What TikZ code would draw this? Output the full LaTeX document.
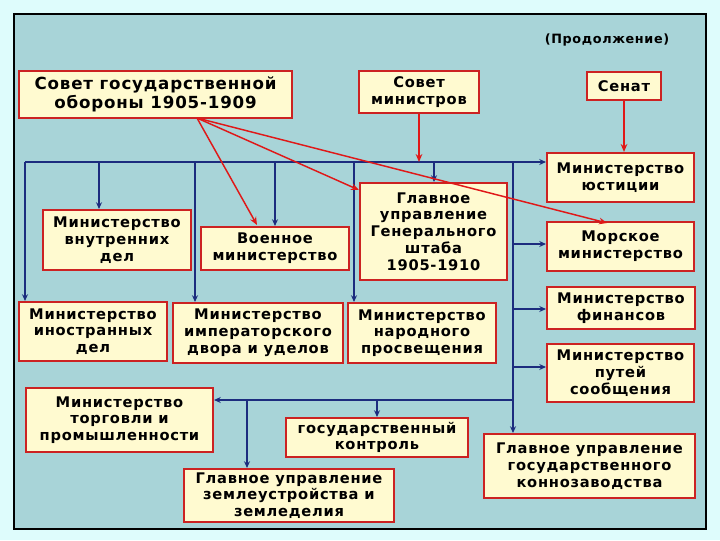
\documentclass[tikz,border=0pt]{standalone}
\usepackage{fontspec}
\setmainfont{DejaVu Sans}[LetterSpace=5]
\usetikzlibrary{arrows.meta}
\definecolor{outerbg}{HTML}{DEFCFC}
\definecolor{panel}{HTML}{A8D4D8}
\definecolor{boxfill}{HTML}{FFFAD0}
\definecolor{boxline}{HTML}{CC2222}
\definecolor{navy}{HTML}{1C2C7E}
\definecolor{redline}{HTML}{E01818}
\tikzset{
  box/.style={draw=boxline, line width=1.6pt, fill=boxfill, align=center, inner sep=1pt,
    font=\fontsize{11}{12.6}\selectfont\bfseries},
  wh/.style 2 args={minimum width=#1*0.75pt, minimum height=#2*0.75pt},
  bthick/.style={draw=navy, line width=1.5pt, -{Stealth[length=5pt,width=4.5pt]}},
  bthin/.style={draw=navy, line width=0.8pt, -{Stealth[length=5pt,width=4.5pt]}},
  rarrow/.style={draw=redline, line width=1.1pt, -{Stealth[length=6pt,width=5pt]}},
}
\begin{document}
\begin{tikzpicture}[x=0.75pt,y=-0.75pt]
\fill[outerbg] (0,0) rectangle (720,540);
\useasboundingbox (0,0) rectangle (720,540);
\draw[fill=panel, line width=1.6pt] (14,14) rectangle (706,529);
\node[font=\fontsize{9.6}{11}\selectfont\bfseries] (cont) at (607,40) {(Продолжение)};

% boxes
\node[box, wh={273}{47}, font=\fontsize{12.5}{14.2}\selectfont\bfseries] (sgo) at (155.5,94.5) {Совет государственной\\обороны 1905-1909};
\node[box, wh={120}{42}] (sm) at (419,92) {Совет\\министров};
\node[box, wh={74}{28}] (sen) at (624,86) {Сенат};
\node[box, wh={147}{49}] (just) at (620.5,177.5) {Министерство\\юстиции};
\node[box, wh={147}{49}] (mor) at (620.5,246.5) {Морское\\министерство};
\node[box, wh={147}{97}] (gsh) at (433.5,231.5) {Главное\\управление\\Генерального\\штаба\\1905-1910};
\node[box, wh={148}{43}] (voen) at (275,248.5) {Военное\\министерство};
\node[box, wh={148}{60}] (vnu) at (117,240) {Министерство\\внутренних\\дел};
\node[box, wh={148}{59}] (ino) at (93,331.5) {Министерство\\иностранных\\дел};
\node[box, wh={170}{60}] (dvor) at (258,333) {Министерство\\императорского\\двора и уделов};
\node[box, wh={148}{60}] (pros) at (422,333) {Министерство\\народного\\просвещения};
\node[box, wh={148}{42}] (fin) at (621,308) {Министерство\\финансов};
\node[box, wh={147}{58}] (put) at (620.5,373) {Министерство\\путей\\сообщения};
\node[box, wh={187}{64}] (torg) at (119.5,420) {Министерство\\торговли и\\промышленности};
\node[box, wh={182}{39}] (gk) at (377,437.5) {государственный\\контроль};
\node[box, wh={210}{53}] (zem) at (289,495.5) {Главное управление\\землеустройства и\\земледелия};
\node[box, wh={211}{64}] (kon) at (589.5,466) {Главное управление\\государственного\\коннозаводства};

% bus coordinates
\coordinate (busL) at (25,162);
\coordinate (trunk) at (513,162);
\coordinate (low) at (513,400);

% main bus
\draw[bthick] (busL) -- (just.west |- busL);
\draw[bthin] (busL) -- (busL |- ino.north);
\draw[bthick] (99,162) -- (99,162 |- vnu.north);
\draw[bthin] (195,162) -- (195,162 |- dvor.north);
\draw[bthick] (275,162) -- (275,162 |- voen.north);
\draw[bthin] (354,162) -- (354,162 |- pros.north);
\draw[bthick] (434,162) -- (434,162 |- gsh.north);
\draw[bthick] (trunk) -- (trunk |- kon.north);
\draw[bthin] (513,244) -- (mor.west |- 0,244);
\draw[bthick] (513,309) -- (fin.west |- 0,309);
\draw[bthin] (513,367) -- (put.west |- 0,367);
\draw[bthin] (low) -- (torg.east |- low);
\draw[bthin] (377,400) -- (377,400 |- gk.north);
\draw[bthin] (247,400) -- (247,400 |- zem.north);

% red arrows
\draw[rarrow] (sm.south) -- (sm.south |- busL);
\draw[rarrow] (sen.south) -- (sen.south |- just.north);
\coordinate (sgoout) at (197,118);
\draw[rarrow] (sgoout) -- (257,225);
\draw[rarrow] (sgoout) -- (gsh.west |- 0,190);
\draw[rarrow] (sgoout) -- (607,223);
\end{tikzpicture}
\end{document}
